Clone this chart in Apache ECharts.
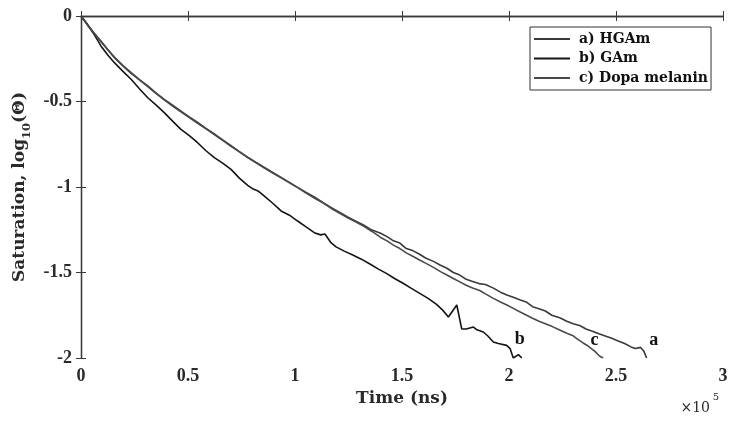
<!DOCTYPE html>
<html>
<head>
<meta charset="utf-8">
<script src="https://cdn.jsdelivr.net/npm/echarts@6/dist/echarts.min.js"></script>
<style>html,body{margin:0;padding:0;background:#fff}#chart{width:737px;height:425px}</style>
</head>
<body>
<div id="chart"></div>
<script>
// Time values in units of 10^3 ns; saturation as log10(Theta)
const timeA = [0,3,6,9.3,12.5,15.6,19.5,23.4,27.3,31.2,35,38.9,42.8,46.7,50.6,54.5,58.4,62.3,66.2,70.1,74,77.9,81.8,85.7,89.6,93.5,97.4,101.2,105,109,113,116.8,120.7,124.6,128.5,132,136,140,143,146,149,152,155,158,161,164.7,168,171,174,177,180,183,186,189,192.5,196,199,202,205,208,211,214,217,220,223.7,227,230,233,236,239.3,242,245,248,251,254,257,259,261.5,263,264.3];
const satA  = [0,-0.05,-0.098,-0.146,-0.196,-0.24,-0.288,-0.331,-0.372,-0.409,-0.45,-0.487,-0.522,-0.556,-0.59,-0.622,-0.657,-0.69,-0.724,-0.758,-0.793,-0.826,-0.856,-0.886,-0.915,-0.944,-0.973,-1.002,-1.03,-1.058,-1.09,-1.12,-1.148,-1.175,-1.2,-1.222,-1.252,-1.27,-1.29,-1.315,-1.328,-1.36,-1.372,-1.392,-1.415,-1.435,-1.458,-1.475,-1.5,-1.515,-1.54,-1.552,-1.565,-1.57,-1.59,-1.615,-1.632,-1.645,-1.66,-1.672,-1.7,-1.712,-1.725,-1.75,-1.765,-1.785,-1.8,-1.81,-1.83,-1.845,-1.858,-1.872,-1.885,-1.9,-1.915,-1.935,-1.944,-1.938,-1.96,-2.0];

const timeB = [0,3,6,9.3,12.5,15.6,19.5,23.4,27.3,31.2,35,38.9,42.8,46.7,50.6,54.5,58.4,62.3,66.2,70.1,74,77.9,80.5,83,85.7,89.6,93.5,97.4,101.2,105,109,112,114,116.8,119.2,123,127,131,135,139,142.7,146.5,150.5,154,158.3,162,166,169,171.7,175.6,177.9,180,183.4,185,188,190,192.7,195,198.9,200.5,202,204.4,206];
const satB  = [0,-0.05,-0.105,-0.175,-0.228,-0.273,-0.322,-0.37,-0.425,-0.478,-0.52,-0.565,-0.615,-0.663,-0.7,-0.741,-0.788,-0.828,-0.86,-0.897,-0.948,-0.99,-1.012,-1.025,-1.053,-1.095,-1.14,-1.165,-1.199,-1.232,-1.267,-1.28,-1.275,-1.326,-1.35,-1.375,-1.398,-1.422,-1.45,-1.48,-1.505,-1.535,-1.563,-1.59,-1.622,-1.65,-1.685,-1.72,-1.76,-1.69,-1.83,-1.83,-1.819,-1.835,-1.848,-1.87,-1.906,-1.915,-1.926,-1.945,-2.0,-1.98,-2.0];

const timeC = [0,3,6,9.3,12.5,15.6,19.5,23.4,27.3,31.2,35,38.9,42.8,46.7,50.6,54.5,58.4,62.3,66.2,70.1,74,77.9,81.8,85.7,89.6,93.5,97.4,101.2,105,109,113,116.8,120.7,124.6,128.5,132,136,140,143,146,149,152,155,158,161,164.7,168,171,174,177,180,183,186.3,189,192.5,196,199,202,205,208,211,214,217,220,223.7,227,230,232,234.6,237,240,242.4,244];
const satC  = [0,-0.052,-0.1,-0.15,-0.198,-0.244,-0.292,-0.335,-0.374,-0.413,-0.452,-0.49,-0.527,-0.56,-0.594,-0.628,-0.66,-0.694,-0.727,-0.762,-0.795,-0.828,-0.858,-0.889,-0.918,-0.947,-0.976,-1.004,-1.034,-1.064,-1.093,-1.124,-1.152,-1.18,-1.205,-1.228,-1.26,-1.295,-1.315,-1.34,-1.36,-1.385,-1.405,-1.425,-1.445,-1.47,-1.495,-1.515,-1.535,-1.555,-1.575,-1.59,-1.605,-1.625,-1.65,-1.672,-1.69,-1.71,-1.73,-1.749,-1.768,-1.785,-1.8,-1.815,-1.836,-1.855,-1.87,-1.89,-1.912,-1.93,-1.96,-1.99,-2.0];

const seriesNames = ['a) HGAm', 'b) GAm', 'c) Dopa melanin'];
const curveTags = ['a', 'b', 'c'];
const tagPos = [[267600, -1.895], [205000, -1.889], [240000, -1.895]];
const xTicks = ['0', '0.5', '1', '1.5', '2', '2.5', '3'];

function pairs(t, s) { return t.map((v, i) => [v * 1000, s[i]]); }

const serifB = 'Liberation Serif';
const dvs = 'DejaVu Serif';
const axisCol = '#3a3a3a';
const colors = ['#3a3a3a', '#141414', '#4a4a4a'];

const chart = echarts.init(document.getElementById('chart'));
const baseX = { type: 'value', min: 0, max: 300000, interval: 50000 };
const baseY = { type: 'value', min: -2, max: 0, interval: 0.5 };

function mkSeries(idx, data) {
  return {
    name: seriesNames[idx], type: 'line', data: data, symbol: 'none', smooth: false,
    lineStyle: { color: colors[idx], width: 1.6 }, itemStyle: { color: colors[idx] },
    clip: true, z: 3 + idx,
    markPoint: {
      symbol: 'circle', symbolSize: 0,
      label: { show: true, formatter: curveTags[idx], color: '#111', fontFamily: serifB, fontWeight: 'bold', fontSize: 18, position: 'inside' },
      data: [{ coord: tagPos[idx] }]
    }
  };
}

chart.setOption({
  animation: false,
  grid: { left: 81, top: 16, right: 14, bottom: 67, containLabel: false },
  legend: {
    orient: 'vertical', left: 530, top: 27,
    icon: 'rect', itemWidth: 36, itemHeight: 2, itemGap: 5.5,
    padding: [5, 3, 5, 4],
    borderColor: '#333', borderWidth: 1, backgroundColor: '#fff',
    textStyle: { fontFamily: dvs, fontWeight: 'bold', fontSize: 14, lineHeight: 14, color: '#111', padding: [0, 0, 0, 4] },
    data: seriesNames.map((n, i) => ({ name: n, itemStyle: { color: colors[i] } }))
  },
  xAxis: [
    Object.assign({}, baseX, {
      position: 'bottom',
      name: 'Time (ns)', nameLocation: 'middle', nameGap: 32,
      nameTextStyle: { fontFamily: dvs, fontWeight: 'bold', fontSize: 17, color: '#2a2a2a' },
      axisLine: { show: true, lineStyle: { color: axisCol, width: 1.3 } },
      axisTick: { show: true, inside: true, length: 5, lineStyle: { color: axisCol } },
      axisLabel: { margin: 9, fontFamily: serifB, fontWeight: 'bold', fontSize: 18, color: '#2a2a2a',
        formatter: v => xTicks[Math.round(v / 50000)] },
      splitLine: { show: false }
    }),
    Object.assign({}, baseX, {
      position: 'top',
      axisLine: { show: true, lineStyle: { color: axisCol, width: 1.3 } },
      axisTick: { show: true, inside: true, length: 5, lineStyle: { color: axisCol } },
      axisLabel: { show: false }, splitLine: { show: false }
    })
  ],
  yAxis: [
    Object.assign({}, baseY, {
      position: 'left',
      name: '{m|Saturation, log}{s|10}{m|(Θ)}', nameLocation: 'middle', nameGap: 45,
      nameTextStyle: {
        color: '#2a2a2a',
        rich: {
          m: { fontFamily: dvs, fontWeight: 'bold', fontSize: 17, lineHeight: 26, color: '#2a2a2a' },
          s: { fontFamily: dvs, fontWeight: 'bold', fontSize: 11.5, lineHeight: 12, verticalAlign: 'bottom', color: '#2a2a2a' }
        }
      },
      axisLine: { show: true, lineStyle: { color: axisCol, width: 1.3 } },
      axisTick: { show: true, inside: true, length: 5, lineStyle: { color: axisCol } },
      axisLabel: { margin: 9, fontFamily: serifB, fontWeight: 'bold', fontSize: 18, color: '#2a2a2a' },
      splitLine: { show: false }
    }),
    Object.assign({}, baseY, {
      position: 'right',
      axisLine: { show: true, lineStyle: { color: axisCol, width: 1.3 } },
      axisTick: { show: true, inside: true, length: 5, lineStyle: { color: axisCol } },
      axisLabel: { show: false }, splitLine: { show: false }
    })
  ],
  graphic: [
    { type: 'text', right: 27, top: 401, style: { text: '×10', fontFamily: dvs, fontSize: 14, fill: '#2a2a2a' } },
    { type: 'text', right: 18, top: 392, style: { text: '5', fontFamily: dvs, fontSize: 10, fill: '#2a2a2a' } }
  ],
  series: [
    mkSeries(0, pairs(timeA, satA)),
    mkSeries(1, pairs(timeB, satB)),
    mkSeries(2, pairs(timeC, satC))
  ]
});
</script>
</body>
</html>
